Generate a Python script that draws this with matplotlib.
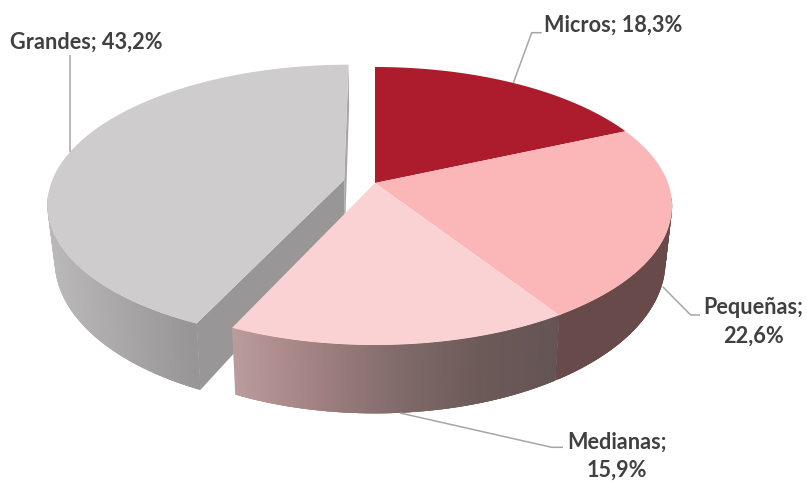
import numpy as np
import matplotlib
matplotlib.use("Agg")
import matplotlib.pyplot as plt
from matplotlib.collections import PolyCollection
from matplotlib.path import Path
from matplotlib.transforms import Transform

categories = ["Micros", "Pequeñas", "Medianas", "Grandes"]
values = [18.3, 22.6, 15.9, 43.2]
explode = [0, 0, 0, 0.108]
top_colors = ["#AD1C2D", "#FBB6B7", "#FBD2D3", "#CECCCD"]
label_lines = [1, 2, 2, 1]
label_pos = [(613.5, 25), (753, 322), (617, 456), (86.5, 42)]
leaders = [
    [(513.3, 83), (531.7, 32.7), (541.7, 32.7)],
    [(662.7, 286.7), (690.7, 315), (700, 315)],
    [(400, 413), (551.7, 447.3), (563, 447.3)],
    [(70, 152), (70, 55)],
]


class Persp(Transform):
    """Perspective view of the pie's flat disk, output in pixel coordinates."""
    input_dims = output_dims = 2
    is_affine = False
    has_inverse = False

    def __init__(self, cx, cy, a, b, k):
        super().__init__()
        self.p = (cx, cy, a, b, k)

    def transform_non_affine(self, values):
        cx, cy, a, b, k = self.p
        pts = np.asarray(values, dtype=float)
        w = 1 + k * pts[:, 1]
        return np.column_stack([cx + a * pts[:, 0] / w, cy - b * pts[:, 1] / w])

    def transform_path_non_affine(self, path):
        t = np.linspace(0, 1, 25)
        out = []
        for seg, code in path.iter_bezier():
            if code == Path.MOVETO:
                out.append(seg.control_points[:1])
            else:
                out.append(seg(t)[1:])
        return Path(self.transform_non_affine(np.vstack(out)))


top = Persp(375, 183, 293, 135.2, 0.1655)
bottom = Persp(375, 236, 286.5, 148, 0.1655)

fig = plt.figure(figsize=(8.07, 4.82), dpi=100, facecolor="white")
ax = fig.add_axes([0, 0, 1, 1])
wedges, _ = ax.pie(values, startangle=90, counterclock=False, colors=top_colors,
                   explode=explode, radius=1, wedgeprops=dict(linewidth=0))
ax.set_aspect("auto")
ax.set_xlim(0, 807)
ax.set_ylim(482, 0)
ax.axis("off")

for w in wedges:
    w.set_transform(top + ax.transData)


def wall_color(stops, x):
    xs = [s[0] for s in stops]
    return [np.interp(x, xs, [s[1][i] / 255 for s in stops]) for i in range(3)]


def side_wall(wedge, stops, z):
    th = np.radians(np.linspace(wedge.theta1, wedge.theta2, 160))
    disk = np.column_stack([wedge.center[0] + wedge.r * np.cos(th),
                            wedge.center[1] + wedge.r * np.sin(th)])
    front = np.sin(th) < -0.1          # only the front of the rim can be seen
    disk = disk[front]
    up = top.transform_non_affine(disk)
    lo = bottom.transform_non_affine(disk)
    quads, cols = [], []
    n = len(disk)
    for i in range(n - 1):
        j = min(i + 3, n - 1)          # each strip runs under the next, no seams
        quads.append(list(up[i:j + 1]) + list(lo[i:j + 1][::-1]))
        cols.append(wall_color(stops, 0.5 * (lo[i, 0] + lo[i + 1, 0])))
    ax.add_collection(PolyCollection(quads, facecolors=cols, edgecolors="none",
                                     linewidths=0, zorder=z), autolim=False)


def cut_wall(wedge, theta, color, z):
    c = np.array(wedge.center)
    rim = c + wedge.r * np.array([np.cos(np.radians(theta)), np.sin(np.radians(theta))])
    disk = np.array([c, rim])
    up = top.transform_non_affine(disk)
    lo = bottom.transform_non_affine(disk)
    ax.fill([up[0, 0], up[1, 0], lo[1, 0], lo[0, 0]],
            [up[0, 1], up[1, 1], lo[1, 1], lo[0, 1]],
            color=color, lw=0, zorder=z)


micros, pequenas, medianas, grandes = wedges

grey_stops = [(50, (188, 186, 186)), (200, (150, 148, 149))]
side_wall(grandes, grey_stops, 1)
cut_wall(grandes, grandes.theta1, "#A8A6A7", 1.1)
cut_wall(grandes, grandes.theta2, "#989697", 1.2)
grandes.set_zorder(2)

rose_stops = [(236, (187, 156, 157)), (320, (160, 128, 128)),
              (400, (128, 107, 106)), (480, (108, 90, 88)), (556, (100, 84, 84))]
side_wall(medianas, rose_stops, 3)
brown_stops = [(556, (103, 74, 73)), (670, (103, 74, 73))]
side_wall(pequenas, brown_stops, 3.1)
for w in (micros, pequenas, medianas):
    w.set_zorder(4)

for pts in leaders:
    xs, ys = zip(*pts)
    ax.plot(xs, ys, color="#A6A6A6", lw=1.1, zorder=5, solid_capstyle="butt")

for cat, val, n, (x, y) in zip(categories, values, label_lines, label_pos):
    sep = ";\n" if n == 2 else "; "
    txt = f"{cat}{sep}{val:.1f}%".replace(".", ",")
    ax.text(x, y, txt, ha="center", va="center", family="Lato", weight="bold",
            fontsize=15.6, color="#404040", linespacing=1.42, zorder=6)

fig.savefig("out.png", dpi=100, facecolor="white")
